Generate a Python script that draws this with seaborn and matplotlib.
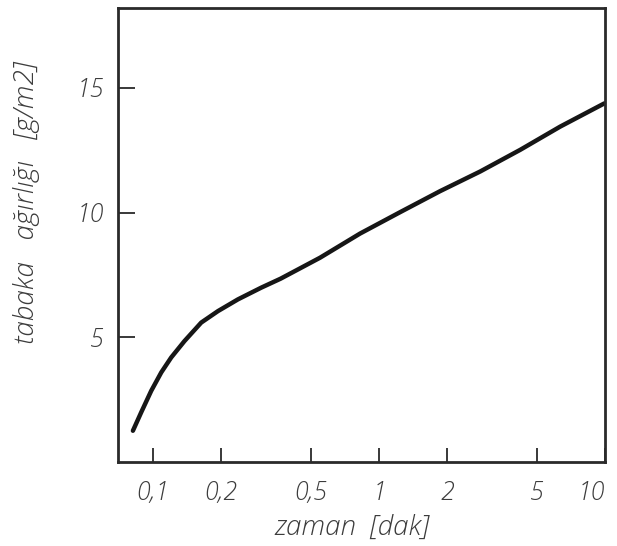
import matplotlib
matplotlib.use("Agg")
import matplotlib.pyplot as plt
import seaborn as sns
import pandas as pd
from matplotlib.ticker import FixedLocator, FixedFormatter, NullLocator

# data
zaman = [0.0816, 0.0888, 0.0983, 0.1089, 0.1205, 0.138, 0.1636, 0.194,
         0.2377, 0.3013, 0.367, 0.548, 0.824, 1.24, 1.86, 2.80, 4.21,
         6.32, 9.9]
agirlik = [1.25, 1.99, 2.85, 3.59, 4.19, 4.85, 5.59, 6.05,
           6.52, 6.99, 7.35, 8.19, 9.16, 10.02, 10.86, 11.65, 12.52,
           13.45, 14.38]
x_ticks = [0.1, 0.2, 0.5, 1, 2, 5, 10]
x_tick_labels = ["0,1", "0,2", "0,5", "1", "2", "5", "10"]
y_ticks = [5, 10, 15]
y_tick_labels = ["5", "10", "15"]

df = pd.DataFrame({"zaman": zaman, "agirlik": agirlik})

sns.set_style("ticks")
plt.rcParams["font.family"] = ["Open Sans", "DejaVu Sans"]

text_col = "#3c3c3c"
fig = plt.figure(figsize=(6.17, 5.46), dpi=100)
ax = fig.add_axes([0.191, 0.154, 0.790, 0.831])

sns.lineplot(data=df, x="zaman", y="agirlik", ax=ax, color="#161616",
             linewidth=3.2, sort=True, estimator=None)

ax.set_xscale("log")
ax.set_xlim(0.070, 10.0)
ax.set_ylim(0, 18.2)

ax.xaxis.set_major_locator(FixedLocator(x_ticks))
ax.xaxis.set_major_formatter(FixedFormatter(x_tick_labels))
ax.xaxis.set_minor_locator(NullLocator())
ax.yaxis.set_major_locator(FixedLocator(y_ticks))
ax.yaxis.set_major_formatter(FixedFormatter(y_tick_labels))

for s in ax.spines.values():
    s.set_linewidth(2.0)
    s.set_color("#2a2a2a")

ax.tick_params(axis="x", direction="in", length=10, width=1.3, color="#2a2a2a",
               labelsize=18, labelcolor=text_col, pad=14)
ax.tick_params(axis="y", direction="in", length=12, width=1.3, color="#2a2a2a",
               labelsize=18, labelcolor=text_col, pad=10)

for lab in ax.get_xticklabels() + ax.get_yticklabels():
    lab.set_fontstyle("italic")
    lab.set_fontweight("light")
# keep the last x label inside the figure
ax.get_xticklabels()[-1].set_horizontalalignment("right")
ax.get_xticklabels()[-1].set_x(10.0)

ax.set_xlabel("zaman  [dak]", fontsize=20, style="italic", color=text_col,
              fontweight="light")
ax.set_ylabel("tabaka   ağırlığı   [g/m2]", fontsize=20, style="italic",
              color=text_col, fontweight="light")
ax.xaxis.set_label_coords(0.48, -0.115)
ax.yaxis.set_label_coords(-0.16, 0.57)

fig.savefig("out.png", dpi=100)
